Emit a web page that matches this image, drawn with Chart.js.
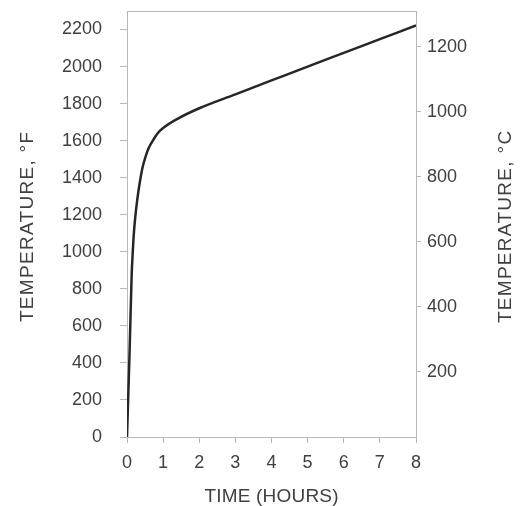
<!DOCTYPE html>
<html>
<head>
<meta charset="utf-8">
<script src="https://cdn.jsdelivr.net/npm/chart.js@4"></script>
<style>
  body { margin: 0; background: #fff; }
  canvas { display: block; }
</style>
</head>
<body>
<canvas id="chart" width="525" height="506"></canvas>
<script>
// time-temperature curve
const hours = [0, 0.07, 0.13, 0.16, 0.19, 0.23, 0.28, 0.35, 0.43, 0.5, 0.6, 0.73, 0.85, 1.0, 1.4, 2, 3, 4, 5, 6, 7, 8];
const tempF = [0, 450, 880, 1000, 1100, 1190, 1275, 1370, 1455, 1505, 1560, 1605, 1640, 1668, 1718, 1775, 1850, 1925, 2000, 2074, 2148, 2222];

const xTicks = [0, 1, 2, 3, 4, 5, 6, 7, 8];
const fTicks = [0, 200, 400, 600, 800, 1000, 1200, 1400, 1600, 1800, 2000, 2200];
const cTicks = [200, 400, 600, 800, 1000, 1200];
const xTitle = 'TIME (HOURS)';
const leftTitle = 'TEMPERATURE, °F';
const rightTitle = 'TEMPERATURE, °C';

const axisColor = '#b8b8b8';
const textColor = '#404040';
const fontFamily = 'Liberation Sans, Arial, sans-serif';
const font = { family: fontFamily, size: 18, lineHeight: 1 };

function drawText(ctx, text, x, y, angle, spacing) {
    ctx.save();
    ctx.translate(x, y);
    ctx.rotate(angle);
    ctx.fillStyle = textColor;
    ctx.font = '19px ' + fontFamily;
    ctx.letterSpacing = spacing + 'px';
    ctx.textAlign = 'center';
    ctx.textBaseline = 'middle';
    ctx.fillText(text, spacing / 2, 0);
    ctx.restore();
}

// top edge of the plot box and the three axis titles
const extras = {
    id: 'extras',
    afterDraw(chart) {
        const a = chart.chartArea;
        const ctx = chart.ctx;
        ctx.save();
        ctx.strokeStyle = axisColor;
        ctx.lineWidth = 1;
        ctx.beginPath();
        ctx.moveTo(a.left, a.top + 0.5);
        ctx.lineTo(a.right, a.top + 0.5);
        ctx.stroke();
        ctx.restore();

        const midY = (a.top + a.bottom) / 2 + 3;
        drawText(ctx, xTitle, (a.left + a.right) / 2, 497, 0, 0.2);
        drawText(ctx, leftTitle, 28, midY, -Math.PI / 2, 1.3);
        drawText(ctx, rightTitle, 506, midY, -Math.PI / 2, 1.3);
    }
};

const plain = v => String(v);

new Chart(document.getElementById('chart'), {
    type: 'line',
    data: {
        datasets: [{
            data: hours.map((h, i) => ({ x: h, y: tempF[i] })),
            borderColor: '#262626',
            borderWidth: 2.5,
            pointRadius: 0,
            cubicInterpolationMode: 'monotone',
            fill: false,
            yAxisID: 'y'
        }]
    },
    options: {
        responsive: false,
        animation: false,
        devicePixelRatio: 1,
        layout: { padding: { top: 11, left: 0, right: 0, bottom: 0 } },
        plugins: { legend: { display: false }, tooltip: { enabled: false } },
        scales: {
            x: {
                type: 'linear',
                min: 0,
                max: 8,
                afterBuildTicks: s => { s.ticks = xTicks.map(v => ({ value: v })); },
                afterFit: s => { s.height = 69; s.paddingLeft = 0; s.paddingRight = 0; },
                ticks: { color: textColor, font: font, padding: 11, maxRotation: 0, callback: plain },
                grid: { drawOnChartArea: false, tickLength: 6, color: axisColor },
                border: { color: axisColor }
            },
            y: {
                position: 'left',
                min: 0,
                max: 2300,
                afterBuildTicks: s => { s.ticks = fTicks.map(v => ({ value: v })); },
                afterFit: s => { s.width = 127; s.paddingTop = 0; s.paddingBottom = 0; },
                ticks: { color: textColor, font: font, padding: 18, callback: plain },
                grid: { drawOnChartArea: false, tickLength: 7, color: axisColor },
                border: { color: axisColor }
            },
            yC: {
                position: 'right',
                min: 0,
                max: 1310,
                afterBuildTicks: s => { s.ticks = cTicks.map(v => ({ value: v })); },
                afterFit: s => { s.width = 109; s.paddingTop = 0; s.paddingBottom = 0; },
                ticks: { color: textColor, font: font, padding: 6, callback: plain },
                grid: { drawOnChartArea: false, tickLength: 5, color: axisColor },
                border: { color: axisColor }
            }
        }
    },
    plugins: [extras]
});
</script>
</body>
</html>
